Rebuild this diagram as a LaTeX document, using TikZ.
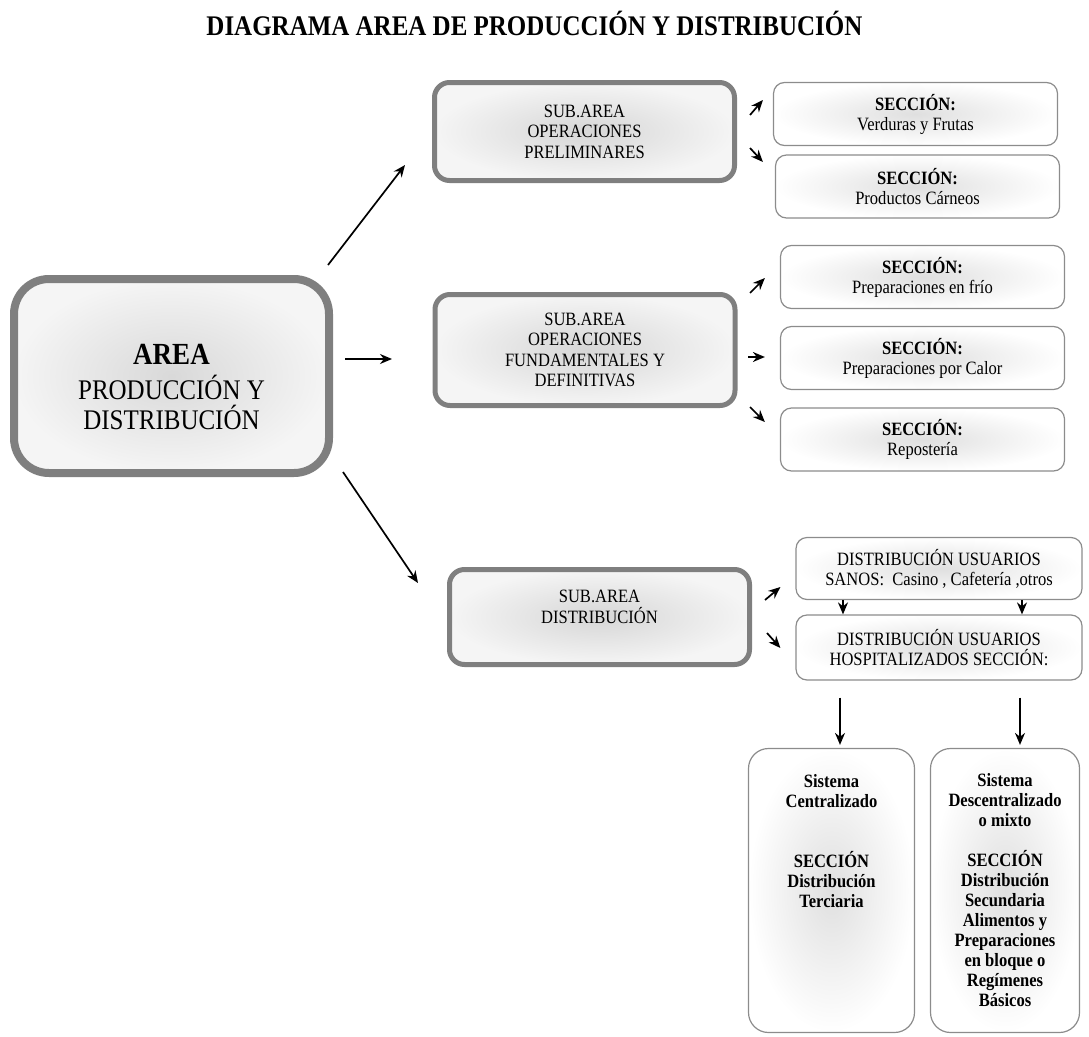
\documentclass[tikz,border=0pt]{standalone}
\usepackage{fontspec}
\setmainfont{Liberation Serif}[FakeStretch=0.88]
\usetikzlibrary{arrows.meta}
\definecolor{borde}{HTML}{7F7F7F}
\definecolor{bordefino}{HTML}{8C8C8C}
\tikzset{> = {Stealth[length=12pt,width=10pt]},
  areabox/.style={draw=borde, line width=8pt, rounded corners=35pt, inner color=gray!30, outer color=gray!8,
    align=center, minimum width=315pt, minimum height=194pt, font=\fontsize{28.4}{30}\selectfont},
  subbox/.style={draw=borde, line width=5pt, rounded corners=15pt, inner color=gray!32, outer color=gray!8,
    align=center, minimum width=300pt, font=\fontsize{18.8}{20.5}\selectfont},
  secbox/.style={draw=bordefino, line width=1.2pt, rounded corners=11pt, inner color=gray!25, outer color=white,
    align=center, minimum width=284pt, minimum height=63pt, font=\fontsize{18.8}{20}\selectfont},
  sysbox/.style={secbox, rounded corners=20pt, minimum height=284pt, font=\fontsize{18.8}{20}\selectfont\bfseries},
  flecha/.style={->, line width=1.7pt}
}
\begin{document}
\begin{tikzpicture}[x=1pt, y=-1pt]
\useasboundingbox (0,0) rectangle (1089,1036);
% title
\node[font=\fontsize{28.4}{30}\selectfont\bfseries, anchor=base] (titulo) at (534.5,35) {DIAGRAMA AREA DE PRODUCCIÓN Y DISTRIBUCIÓN};
% nodes
\node[areabox] (area) at (171.5,376) {\mbox{}\\[12pt]{\fontsize{30.7}{30}\selectfont\bfseries AREA}\\[5pt]PRODUCCIÓN Y\\DISTRIBUCIÓN};
\node[subbox, minimum height=98pt] (sub1) at (584.5,131.5) {SUB.AREA\\OPERACIONES\\PRELIMINARES};
\node[subbox, minimum height=111pt] (sub2) at (585,350) {SUB.AREA\\OPERACIONES\\FUNDAMENTALES Y\\DEFINITIVAS};
\node[subbox, minimum height=95pt] (sub3) at (599.5,617) {SUB.AREA\\DISTRIBUCIÓN\\[0pt]\mbox{}};
\node[secbox] (verduras) at (915.5,114) {\textbf{SECCIÓN:}\\Verduras y Frutas};
\node[secbox] (carneos) at (917.5,186.5) {\textbf{SECCIÓN:}\\Productos Cárneos};
\node[secbox] (frio) at (922.5,277) {\textbf{SECCIÓN:}\\Preparaciones en frío};
\node[secbox] (calor) at (922.5,358) {\textbf{SECCIÓN:}\\Preparaciones por Calor};
\node[secbox] (reposteria) at (922.5,439.5) {\textbf{SECCIÓN:}\\Repostería};
\node[secbox, minimum width=286pt, minimum height=62pt] (sanos) at (939,568.5) {DISTRIBUCIÓN USUARIOS\\SANOS:~ Casino , Cafetería ,otros};
\node[secbox, minimum width=286pt, minimum height=65pt] (hospital) at (939,647.5) {DISTRIBUCIÓN USUARIOS\\HOSPITALIZADOS SECCIÓN:};
\node[sysbox, minimum width=166pt] (centralizado) at (831.5,890.5) {Sistema\\Centralizado\\[40pt]SECCIÓN\\Distribución\\Terciaria\\[80pt]\mbox{}};
\node[sysbox, minimum width=149pt] (descentralizado) at (1005,890.5) {Sistema\\Descentralizado\\o mixto\\[20pt]SECCIÓN\\Distribución\\Secundaria\\Alimentos y\\Preparaciones\\en bloque o\\Regímenes\\Básicos};
% edges
\draw[flecha] ([shift={(-5,-10)}]area.north east) -- ([shift={(-27,33.5)}]sub1.west);
\draw[flecha] ([shift={(12,-17)}]area.east) -- ([shift={(-40.5,9)}]sub2.west);
\draw[flecha] ([shift={(10,-5)}]area.south east) -- ([shift={(-29,-34)}]sub3.west);
\draw[flecha] ([shift={(13,-16.5)}]sub1.east) -- ([shift={(-10,-14)}]verduras.west);
\draw[flecha] ([shift={(13,16.5)}]sub1.east) -- ([shift={(-12,-24.5)}]carneos.west);
\draw[flecha] ([shift={(12.5,-57)}]sub2.east) -- ([shift={(-15,1)}]frio.west);
\draw[flecha] ([shift={(10.5,7)}]sub2.east) -- ([shift={(-15,-1)}]calor.west);
\draw[flecha] ([shift={(12.5,57)}]sub2.east) -- ([shift={(-15,-17.5)}]reposteria.west);
\draw[flecha] ([shift={(13,-17)}]sub3.east) -- ([shift={(-15,18.5)}]sanos.west);
\draw[flecha] ([shift={(15,16)}]sub3.east) -- ([shift={(-15,0.5)}]hospital.west);
\draw[flecha] (sanos.south -| 843,0) -- (hospital.north -| 843,0);
\draw[flecha] (sanos.south -| 1022,0) -- (hospital.north -| 1022,0);
\draw[flecha, shorten <=17pt, shorten >=3pt] (hospital.south -| 840,0) -- (centralizado.north -| 840,0);
\draw[flecha, shorten <=17pt, shorten >=3pt] (hospital.south -| 1020,0) -- (descentralizado.north -| 1020,0);
\end{tikzpicture}
\end{document}
